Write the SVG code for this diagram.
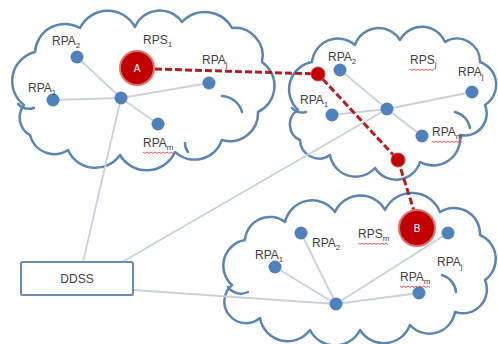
<svg xmlns="http://www.w3.org/2000/svg" width="498" height="344" viewBox="0 0 498 344">
<style>
.cloud{fill:#fff;stroke:#5b85b3;stroke-width:2.5;stroke-linejoin:round}
.inner{fill:none;stroke:#5b85b3;stroke-width:2.5;stroke-linecap:round}
.link{stroke:#c9d1da;stroke-width:1.8;fill:none}
.red{stroke:#b81c1c;stroke-width:3;stroke-dasharray:7 3;fill:none}
.dot{fill:#4f81bd}
.rdot{fill:#c00000;stroke:#d94040;stroke-width:1}
.big{fill:#c00000;stroke:#e07070;stroke-width:2}
.lbl{font-family:"Liberation Sans",Arial,sans-serif;font-size:12px;fill:#404040}
.sub{font-size:8px}
.wl{font-family:"Liberation Sans",Arial,sans-serif;font-size:10px;fill:#fff;text-anchor:middle}
.sq{fill:none;stroke:#e04040;stroke-width:0.9}
</style>
<g id="cloud1">
<path class="cloud" d="M24,105 A30,30 0 0 1 35,52 A30,30 0 0 1 80,28 A31,31 0 0 1 135,27 A27,27 0 0 1 182,22 A31,31 0 0 1 232,28 A28,28 0 0 1 262,62 A29,29 0 0 1 258,112 A28,28 0 0 1 222,140 A29,29 0 0 1 175,152 A31,31 0 0 1 120,155 A30,30 0 0 1 68,150 A25,25 0 0 1 30,135 A20,20 0 0 1 24,105 Z"/>
<path class="inner" d="M222,96 A22,22 0 0 1 242,112"/>
<path class="inner" d="M18,104 A16,16 0 0 0 34,108"/>
<path class="inner" d="M185,143 A14,14 0 0 0 188,152"/>
</g>
<g id="cloud2">
<path class="cloud" d="M298,110 A28,28 0 0 1 312,62 A26,26 0 0 1 355,45 A25,25 0 0 1 400,40 A25,25 0 0 1 445,42 A23,23 0 0 1 480,62 A24,24 0 0 1 485,105 A22,22 0 0 1 460,135 A27,27 0 0 1 420,162 A25,25 0 0 1 375,168 A26,26 0 0 1 330,155 A19,19 0 0 1 300,140 A17,17 0 0 1 298,110 Z"/>
<path class="inner" d="M455,112 A20,20 0 0 1 470,128"/>
<path class="inner" d="M292,108 A14,14 0 0 0 306,112"/>
</g>
<g id="cloud3">
<path class="cloud" d="M232,285 A26,26 0 0 1 245,240 A25,25 0 0 1 285,222 A28,28 0 0 1 335,212 A28,28 0 0 1 385,210 A30,30 0 0 1 440,212 A26,26 0 0 1 480,235 A26,26 0 0 1 485,280 A24,24 0 0 1 455,312 A26,26 0 0 1 410,325 A28,28 0 0 1 360,330 A28,28 0 0 1 310,330 A28,28 0 0 1 260,318 A20,20 0 0 1 232,285 Z"/>
<path class="inner" d="M442,275 A20,20 0 0 1 456,292"/>
<path class="inner" d="M228,287 A16,16 0 0 0 248,292"/>
</g>
<g id="connectors">
<line class="link" x1="121" y1="98" x2="53" y2="100"/>
<line class="link" x1="121" y1="98" x2="209" y2="83"/>
<line class="link" x1="121" y1="98" x2="77" y2="57"/>
<line class="link" x1="121" y1="98" x2="158" y2="124"/>
<line class="link" x1="121" y1="98" x2="83" y2="262"/>
<line class="link" x1="387" y1="109" x2="332" y2="115"/>
<line class="link" x1="387" y1="109" x2="472" y2="92"/>
<line class="link" x1="387" y1="109" x2="340" y2="70"/>
<line class="link" x1="387" y1="109" x2="422" y2="136"/>
<line class="link" x1="387" y1="109" x2="122" y2="262"/>
<line class="link" x1="336" y1="304" x2="275" y2="267"/>
<line class="link" x1="336" y1="304" x2="301" y2="233"/>
<line class="link" x1="336" y1="304" x2="448" y2="233"/>
<line class="link" x1="336" y1="304" x2="419" y2="293"/>
<line class="link" x1="336" y1="304" x2="133" y2="290"/>
<polyline class="red" points="155,69 318,74 398,160 414,211"/>
</g>
<g id="DDSS">
<rect x="21" y="262" width="112" height="33" rx="1.5" fill="#fff" stroke="#6a8cb4" stroke-width="2"/>
<text class="lbl" x="77" y="283" text-anchor="middle">DDSS</text>
</g>
<g id="c1-nodes">
<circle class="dot" cx="121" cy="98" r="6.5"/>
<circle class="dot" cx="53" cy="100" r="6.5"/>
<circle class="dot" cx="77" cy="57" r="6.5"/>
<circle class="dot" cx="209" cy="83" r="6.5"/>
<circle class="dot" cx="158" cy="124" r="6.5"/>
</g>
<g id="A">
<circle class="big" cx="137" cy="68" r="17"/>
<text class="wl" x="137" y="72">A</text>
</g>
<g id="c2-nodes">
<circle class="dot" cx="387" cy="109" r="6.5"/>
<circle class="dot" cx="332" cy="115" r="6.5"/>
<circle class="dot" cx="340" cy="70" r="6.5"/>
<circle class="dot" cx="472" cy="92" r="6.5"/>
<circle class="dot" cx="422" cy="136" r="6.5"/>
<circle class="rdot" cx="318" cy="74" r="7"/>
<circle class="rdot" cx="398" cy="160" r="7"/>
</g>
<g id="c3-nodes">
<circle class="dot" cx="336" cy="304" r="6.5"/>
<circle class="dot" cx="275" cy="267" r="6.5"/>
<circle class="dot" cx="301" cy="233" r="6.5"/>
<circle class="dot" cx="448" cy="233" r="6.5"/>
<circle class="dot" cx="419" cy="293" r="6.5"/>
</g>
<g id="B">
<circle class="big" cx="417" cy="228" r="18"/>
<text class="wl" x="417" y="232">B</text>
</g>
<g id="labels">
<text class="lbl" x="52" y="45">RPA<tspan class="sub" dy="3">2</tspan></text>
<text class="lbl" x="143" y="44">RPS<tspan class="sub" dy="3">1</tspan></text>
<text class="lbl" x="202" y="64">RPA<tspan class="sub" dy="3">j</tspan></text>
<text class="lbl" x="28" y="92">RPA<tspan class="sub" dy="3">1</tspan></text>
<text class="lbl" x="143" y="147">RPA<tspan class="sub" dy="3">m</tspan></text>
<text class="lbl" x="328" y="61">RPA<tspan class="sub" dy="3">2</tspan></text>
<text class="lbl" x="410" y="64">RPS<tspan class="sub" dy="3">j</tspan></text>
<text class="lbl" x="458" y="76">RPA<tspan class="sub" dy="3">j</tspan></text>
<text class="lbl" x="300" y="104">RPA<tspan class="sub" dy="3">1</tspan></text>
<text class="lbl" x="432" y="136">RPA<tspan class="sub" dy="3">m</tspan></text>
<text class="lbl" x="312" y="247">RPA<tspan class="sub" dy="3">2</tspan></text>
<text class="lbl" x="358" y="238">RPS<tspan class="sub" dy="3">m</tspan></text>
<text class="lbl" x="255" y="259">RPA<tspan class="sub" dy="3">1</tspan></text>
<text class="lbl" x="437" y="266">RPA<tspan class="sub" dy="3">j</tspan></text>
<text class="lbl" x="400" y="281">RPA<tspan class="sub" dy="3">m</tspan></text>
<path class="sq" d="M143,152 l2,1.5 l2,-1.5 l2,1.5 l2,-1.5 l2,1.5 l2,-1.5 l2,1.5 l2,-1.5 l2,1.5 l2,-1.5 l2,1.5 l2,-1.5 l2,1.5 l2,-1.5 l2,1.5"/>
<path class="sq" d="M410,69 l2,1.5 l2,-1.5 l2,1.5 l2,-1.5 l2,1.5 l2,-1.5 l2,1.5 l2,-1.5 l2,1.5 l2,-1.5 l2,1.5 l2,-1.5"/>
<path class="sq" d="M432,141 l2,1.5 l2,-1.5 l2,1.5 l2,-1.5 l2,1.5 l2,-1.5 l2,1.5 l2,-1.5 l2,1.5 l2,-1.5 l2,1.5 l2,-1.5 l2,1.5 l2,-1.5 l2,1.5"/>
<path class="sq" d="M358,243 l2,1.5 l2,-1.5 l2,1.5 l2,-1.5 l2,1.5 l2,-1.5 l2,1.5 l2,-1.5 l2,1.5 l2,-1.5 l2,1.5 l2,-1.5 l2,1.5 l2,-1.5 l2,1.5"/>
<path class="sq" d="M400,286 l2,1.5 l2,-1.5 l2,1.5 l2,-1.5 l2,1.5 l2,-1.5 l2,1.5 l2,-1.5 l2,1.5 l2,-1.5 l2,1.5 l2,-1.5 l2,1.5 l2,-1.5 l2,1.5"/>
</g>
</svg>
